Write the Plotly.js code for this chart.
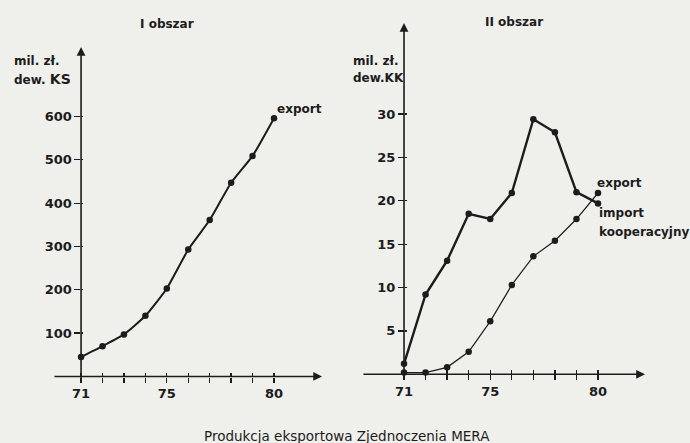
<!DOCTYPE html>
<html>
<head>
<meta charset="utf-8">
<script src="https://cdn.plot.ly/plotly-3.0.1.min.js"></script>
<style>html,body{margin:0;padding:0;background:#efefeb;}#chart{width:690px;height:443px;}</style>
</head>
<body>
<div id="chart"></div>
<script>
// ---- data ----
var years = [71, 72, 73, 74, 75, 76, 77, 78, 79, 80];
var exportI = [45, 70, 97, 140, 203, 293, 361, 447, 509, 596];
var exportII = [1.2, 9.2, 13.1, 18.5, 17.9, 20.9, 29.4, 27.9, 21.0, 19.7];
var importII = [0.2, 0.2, 0.8, 2.6, 6.1, 10.3, 13.6, 15.4, 17.9, 20.9];
var xTickLabels = ['71', '', '', '', '75', '', '', '', '', '80'];
var yTicksI = [100, 200, 300, 400, 500, 600];
var yTicksII = [5, 10, 15, 20, 25, 30];

var ink = '#1c1c1c';
var FONT = 'DejaVu Sans, Verdana, sans-serif';

var traces = [
  {x: years, y: exportI, xaxis: 'x', yaxis: 'y', mode: 'lines+markers',
   line: {color: ink, width: 2, shape: 'spline', smoothing: 0.5},
   marker: {color: ink, size: 6.5}, cliponaxis: false, hoverinfo: 'none'},
  {x: years, y: exportII, xaxis: 'x2', yaxis: 'y2', mode: 'lines+markers',
   line: {color: ink, width: 2.4}, marker: {color: ink, size: 6.5}, cliponaxis: false, hoverinfo: 'none'},
  {x: years, y: importII, xaxis: 'x2', yaxis: 'y2', mode: 'lines+markers',
   line: {color: ink, width: 1.2}, marker: {color: ink, size: 6.5}, cliponaxis: false, hoverinfo: 'none'},
  // empty traces to create the tick overlay subplots
  {x: [], y: [], xaxis: 'x3', yaxis: 'y', hoverinfo: 'none'},
  {x: [], y: [], xaxis: 'x', yaxis: 'y3', hoverinfo: 'none'},
  {x: [], y: [], xaxis: 'x4', yaxis: 'y2', hoverinfo: 'none'},
  {x: [], y: [], xaxis: 'x2', yaxis: 'y4', hoverinfo: 'none'}
];

var tickFont = {family: FONT, size: 13, color: ink, weight: 'bold'};

var xRangeI = [69.69, 82.24], yRangeI = [-10.4, 760.4];
var xRangeII = [69.05, 82.18], yRangeII = [-0.43, 40.5];

function xAx(range, domain, pos, labels) {
  return {range: range, domain: domain, anchor: 'free', position: pos,
    showgrid: false, zeroline: false, showline: false,
    tickmode: 'array', tickvals: years, ticktext: labels,
    ticks: 'outside', ticklen: 5, tickwidth: 1.3, tickcolor: ink,
    tickfont: tickFont, showticklabels: !!labels, fixedrange: true};
}
function yAx(range, domain, pos, vals) {
  return {range: range, domain: domain, anchor: 'free', position: pos,
    showgrid: false, zeroline: false, showline: false,
    tickmode: 'array', tickvals: vals,
    ticks: 'outside', ticklen: 6, tickwidth: 1.3, tickcolor: ink,
    tickfont: tickFont, fixedrange: true};
}

var layout = {
  width: 690, height: 443,
  margin: {l: 0, r: 0, t: 0, b: 0},
  paper_bgcolor: '#efefeb', plot_bgcolor: 'rgba(0,0,0,0)',
  showlegend: false,
  xaxis: xAx(xRangeI, [0.0768, 0.4667], 0.1501, xTickLabels),
  yaxis: yAx(yRangeI, [0.14, 0.8939], 0.1165, yTicksI),
  xaxis2: xAx(xRangeII, [0.5246, 0.9348], 0.1551, xTickLabels),
  yaxis2: yAx(yRangeII, [0.1467, 0.9481], 0.5855, yTicksII),
  xaxis3: Object.assign(xAx(xRangeI, [0.0768, 0.4667], 0.1501, null), {overlaying: 'x', ticks: 'inside', ticklen: 4}),
  yaxis3: Object.assign(yAx(yRangeI, [0.14, 0.8939], 0.1165, yTicksI), {overlaying: 'y', ticks: 'inside', ticklen: 2, showticklabels: false}),
  xaxis4: Object.assign(xAx(xRangeII, [0.5246, 0.9348], 0.1551, null), {overlaying: 'x2', ticks: 'inside', ticklen: 4}),
  yaxis4: Object.assign(yAx(yRangeII, [0.1467, 0.9481], 0.5855, yTicksII), {overlaying: 'y2', ticks: 'inside', ticklen: 2, showticklabels: false}),
  annotations: []
};

function arrow(xr, yr, x, y, ax, ay) {
  return {xref: xr, yref: yr, axref: xr, ayref: yr, x: x, y: y, ax: ax, ay: ay,
    text: '', showarrow: true, arrowhead: 2, arrowsize: 1.1, arrowwidth: 1.6,
    arrowcolor: ink, standoff: 0, startstandoff: 0};
}
layout.annotations.push(arrow('x', 'y', xRangeI[1], 0, xRangeI[0], 0));
layout.annotations.push(arrow('x', 'y', 71, yRangeI[1], 71, yRangeI[0]));
layout.annotations.push(arrow('x2', 'y2', xRangeII[1], 0, xRangeII[0], 0));
layout.annotations.push(arrow('x2', 'y2', 71, yRangeII[1], 71, yRangeII[0]));

function txt(t, px, py, anchor, size, weight) {
  return {xref: 'paper', yref: 'paper', x: px / 690, y: (443 - py) / 443,
    xanchor: anchor || 'left', yanchor: 'middle', text: t, showarrow: false,
    font: {family: FONT, size: size || 13, color: ink, weight: weight || 'normal'}};
}
layout.annotations.push(txt('I obszar', 167, 24, 'center', 12, 'bold'));
layout.annotations.push(txt('mil. zł.', 12, 61, 'left', 12, 'bold'));
layout.annotations.push(txt('dew. <span style="font-size:14px">KS</span>', 12, 79, 'left', 12, 'bold'));
layout.annotations.push(txt('export', 275, 109, 'left', 12, 'bold'));
layout.annotations.push(txt('II obszar', 514, 22, 'center', 12, 'bold'));
layout.annotations.push(txt('mil. zł.', 351, 61, 'left', 12, 'bold'));
layout.annotations.push(txt('dew.KK', 351, 78, 'left', 12, 'bold'));
layout.annotations.push(txt('export', 595, 183, 'left', 12, 'bold'));
layout.annotations.push(txt('import', 597, 213, 'left', 12, 'bold'));
layout.annotations.push(txt('kooperacyjny', 597, 232, 'left', 12, 'bold'));
layout.annotations.push(txt('Produkcja eksportowa Zjednoczenia MERA', 347, 436, 'center', 13.5, 'normal'));

Plotly.newPlot('chart', traces, layout, {staticPlot: true, displayModeBar: false});
</script>
</body>
</html>
